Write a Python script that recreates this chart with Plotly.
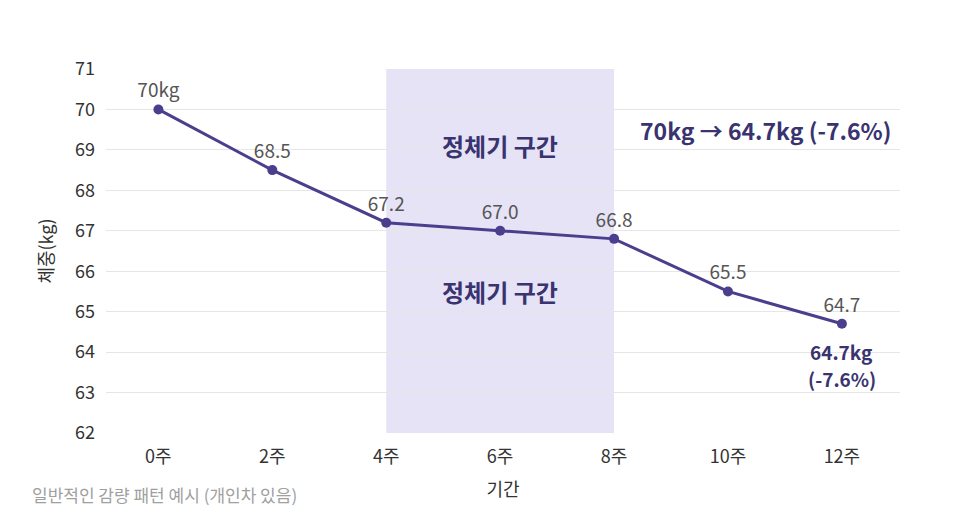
import plotly.graph_objects as go

# 주차별 체중 데이터
weeks = ["0주", "2주", "4주", "6주", "8주", "10주", "12주"]
weights = [70.0, 68.5, 67.2, 67.0, 66.8, 65.5, 64.7]
point_labels = ["70kg", "68.5", "67.2", "67.0", "66.8", "65.5", "64.7"]

plateau_start = "4주"
plateau_end = "8주"
plateau_text = "정체기 구간"
plateau_label_y = [69.1, 65.5]

summary_text = "70kg → 64.7kg (-7.6%)"
final_lines = ["64.7kg", "(-7.6%)"]
final_y = [64.02, 63.36]
caption = "일반적인 감량 패턴 예시 (개인차 있음)"

line_color = "#4a3f8c"
label_color = "#39336f"
font_family = "Noto Sans CJK KR, Noto Sans, sans-serif"

fig = go.Figure()

fig.add_trace(go.Scatter(
    x=weeks, y=weights,
    mode="lines+markers+text",
    text=point_labels,
    textposition="top center",
    textfont=dict(size=19, color="#555555"),
    line=dict(color=line_color, width=3),
    marker=dict(color=line_color, size=10),
    showlegend=False,
))

# 정체기 음영
i0 = weeks.index(plateau_start)
i1 = weeks.index(plateau_end)
fig.add_shape(type="rect", xref="x", yref="paper",
              x0=i0, x1=i1, y0=0, y1=1,
              fillcolor="#e6e3f7", line_width=0, layer="below")

mid = weeks[(i0 + i1) // 2]
for yy in plateau_label_y:
    fig.add_annotation(x=mid, y=yy, text=f"<b>{plateau_text}</b>", showarrow=False,
                       font=dict(size=24, color=label_color),
                       xref="x", yref="y")

fig.add_annotation(x=5.33, y=69.5, text=f"<b>{summary_text}</b>", showarrow=False,
                   font=dict(size=23, color=label_color), xref="x", yref="y")
for txt, yy in zip(final_lines, final_y):
    fig.add_annotation(x=weeks[-1], y=yy, text=f"<b>{txt}</b>", showarrow=False,
                       font=dict(size=19, color=label_color), xref="x", yref="y")

fig.add_annotation(x=-0.096, y=-0.17, xref="paper", yref="paper",
                   xanchor="left", yanchor="middle",
                   text=caption, showarrow=False,
                   font=dict(size=17, color="#a0a0a0"))

fig.update_layout(
    width=958, height=501,
    margin=dict(l=98, r=66, t=61, b=76),
    paper_bgcolor="white", plot_bgcolor="white",
    font=dict(family=font_family, size=18, color="#333333"),
    xaxis=dict(
        type="category", range=[-0.46, 6.51],
        showgrid=False, zeroline=False, showline=False,
        ticks="", tickfont=dict(size=18, color="#333333"),
        ticklabelstandoff=11,
        title=dict(text="기간", font=dict(size=18), standoff=16),
    ),
    yaxis=dict(
        range=[62, 71], dtick=1,
        showgrid=True, gridcolor="#e6e6e6", gridwidth=1,
        zeroline=False, showline=False, ticks="",
        tickfont=dict(size=18, color="#333333"),
        ticklabelstandoff=10,
        title=dict(text="체중(kg)", font=dict(size=18), standoff=16),
    ),
)

fig.write_html("out.html")
